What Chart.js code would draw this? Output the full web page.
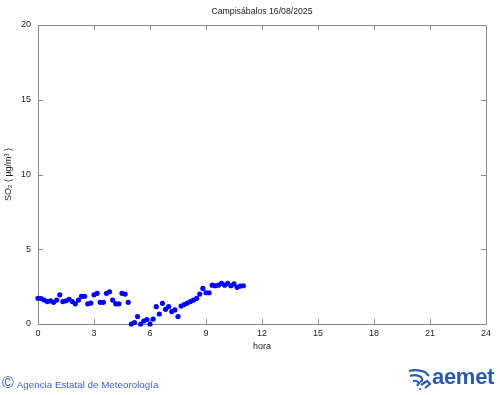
<!DOCTYPE html>
<html>
<head>
<meta charset="utf-8">
<script src="https://cdn.jsdelivr.net/npm/chart.js@4"></script>
<style>
  html,body{margin:0;padding:0;background:#fff;}
  #wrap{position:relative;width:500px;height:395px;}
  canvas{position:absolute;left:0;top:0;}
  .t{position:absolute;font-family:"Liberation Sans",Arial,sans-serif;white-space:nowrap;}
</style>
</head>
<body>
<div id="wrap">
  <canvas id="c" width="500" height="395"></canvas>
  <div class="t" id="title" style="left:162px;width:200px;top:6px;text-align:center;font-size:8.7px;color:#222;">Campisábalos 16/08/2025</div>
  <div class="t" style="left:2px;top:374px;font-size:9.8px;color:#3a63c8;"><span style="font-size:16px;position:relative;top:0px;margin-right:3px;">©</span>Agencia Estatal de Meteorología</div>
  <svg style="position:absolute;left:407px;top:368px" width="26" height="22" viewBox="0 0 26 22">
    <g fill="none" stroke="#2b5aa8" stroke-width="2.2">
      <path d="M2 3 Q10 1 18 4 L22 8"/>
      <path d="M3 8 Q9 6 14 9 Q17 12 13 14"/>
      <path d="M6 13 Q10 12 12 15 L10 18"/>
      <path d="M14 17 L20 13 L23 16 L18 20"/>
    </g>
    <circle cx="13" cy="21" r="1" fill="#2b5aa8"/>
  </svg>
  <div class="t" style="left:432px;top:364px;font-size:22px;font-weight:bold;color:#2b5aa8;letter-spacing:-0.3px;">aemet</div>
</div>
<script>
// SO2 (µg/m3), Campisábalos 16/08/2025, one value every 10 minutes from 00:00
const inicioHora = 0;
const intervaloMin = 10;
const so2 = [
  1.72, 1.70, 1.60, 1.50, 1.55, 1.45, 1.60, 1.95, 1.50, 1.55,
  1.65, 1.50, 1.35, 1.60, 1.85, 1.85, 1.35, 1.40, 1.95, 2.05,
  1.45, 1.45, 2.05, 2.15, 1.60, 1.35, 1.35, 2.05, 2.00, 1.45,
  0.00, 0.10, 0.50, 0.00, 0.20, 0.30, 0.00, 0.33, 1.16, 0.67,
  1.38, 0.98, 1.16, 0.83, 0.94, 0.50, 1.20, 1.30, 1.40, 1.50,
  1.60, 1.72, 2.00, 2.38, 2.09, 2.09, 2.60, 2.56, 2.60, 2.72,
  2.60, 2.72, 2.56, 2.68, 2.45, 2.54, 2.56
];
const xTicks = [0, 3, 6, 9, 12, 15, 18, 21, 24];
const yTicks = [0, 5, 10, 15, 20];

const puntos = so2.map((v, i) => ({ x: inicioHora + i * intervaloMin / 60, y: v }));

const frame = {
  id: 'frame',
  beforeDatasetsDraw(chart) {
    const { ctx, chartArea: a, scales } = chart;
    ctx.save();
    ctx.strokeStyle = '#8a8a8a';
    ctx.lineWidth = 1;
    ctx.strokeRect(Math.round(a.left) + 0.5, Math.round(a.top) + 0.5,
                   Math.round(a.right - a.left), Math.round(a.bottom - a.top));
    ctx.beginPath();
    xTicks.forEach(t => {
      const px = Math.round(scales.x.getPixelForValue(t)) + 0.5;
      ctx.moveTo(px, a.bottom); ctx.lineTo(px, a.bottom - 5);
      ctx.moveTo(px, a.top); ctx.lineTo(px, a.top + 5);
    });
    yTicks.forEach(t => {
      const py = Math.round(scales.y.getPixelForValue(t)) + 0.5;
      ctx.moveTo(a.left, py); ctx.lineTo(a.left + 5, py);
      ctx.moveTo(a.right, py); ctx.lineTo(a.right - 5, py);
    });
    ctx.stroke();
    ctx.restore();
  }
};

const font = { family: '"Liberation Sans", Arial, sans-serif', size: 9 };

new Chart(document.getElementById('c'), {
  type: 'scatter',
  data: {
    datasets: [{
      data: puntos,
      backgroundColor: '#0000ff',
      borderColor: '#0000ff',
      pointRadius: 2.6,
      pointBorderWidth: 0,
      showLine: false,
      clip: false
    }]
  },
  options: {
    responsive: false,
    animation: false,
    devicePixelRatio: 1,
    layout: { padding: { top: 25, right: 14, left: 0, bottom: 0 } },
    plugins: { legend: { display: false }, tooltip: { enabled: false }, title: { display: false } },
    scales: {
      x: {
        type: 'linear', min: 0, max: 24,
        afterBuildTicks(s) { s.ticks = xTicks.map(v => ({ value: v })); },
        afterFit(s) { s.height = 71; },
        grid: { display: false, drawTicks: false },
        border: { display: false },
        ticks: { font, color: '#222', padding: 4, maxRotation: 0 },
        title: { display: true, text: 'hora', font, color: '#222', padding: { top: 0, bottom: 43 } }
      },
      y: {
        type: 'linear', min: 0, max: 20,
        afterBuildTicks(s) { s.ticks = yTicks.map(v => ({ value: v })); },
        afterFit(s) { s.width = 38; },
        grid: { display: false, drawTicks: false },
        border: { display: false },
        ticks: { font, color: '#222', padding: 7 },
        title: { display: true, text: 'SO₂ ( µg/m³ )', font, color: '#222', padding: { top: 3, bottom: 0 } }
      }
    }
  },
  plugins: [frame]
});
</script>
</body>
</html>
